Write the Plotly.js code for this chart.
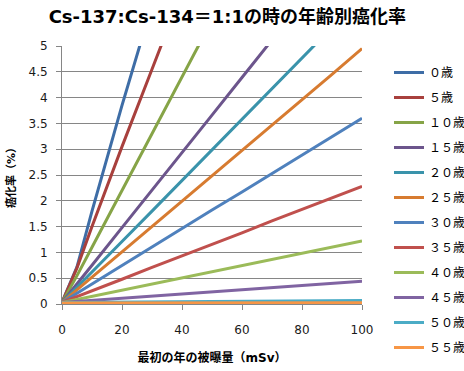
<!DOCTYPE html>
<html><head><meta charset="utf-8">
<script src="https://cdn.plot.ly/plotly-3.0.1.min.js"></script>
<style>html,body{margin:0;padding:0;background:#fff}#c{width:464px;height:371px}</style>
</head><body><div id="c"></div>
<script>
const dose = [0, 5, 10, 20, 30, 40, 50, 60, 70, 80, 90, 100];
const ageLabels = ['０歳','５歳','１０歳','１５歳','２０歳','２５歳','３０歳','３５歳','４０歳','４５歳','５０歳','５５歳'];
const age0  = [0.03, 0.72, 1.80, 3.85, 5.80, 7.75, 9.70, 11.65, 13.60, 15.55, 17.50, 19.45];
const age5  = [0.03, 0.70, 1.50, 3.05, 4.55, 6.05, 7.55, 9.05, 10.55, 12.05, 13.55, 15.05];
const age10 = [0.03, 0.55, 1.10, 2.20, 3.30, 4.40, 5.50, 6.60, 7.70, 8.80, 9.90, 11.00];
const age15 = [0.03, 0.38, 0.75, 1.48, 2.20, 2.93, 3.66, 4.39, 5.12, 5.85, 6.58, 7.30];
const age20 = [0.03, 0.32, 0.62, 1.21, 1.80, 2.39, 2.99, 3.58, 4.17, 4.77, 5.36, 5.96];
const age25 = [0.03, 0.27, 0.52, 1.01, 1.50, 1.99, 2.49, 2.98, 3.47, 3.96, 4.45, 4.95];
const age30 = [0.03, 0.21, 0.39, 0.74, 1.10, 1.46, 1.82, 2.17, 2.53, 2.88, 3.24, 3.60];
const age35 = [0.03, 0.14, 0.26, 0.48, 0.71, 0.93, 1.16, 1.38, 1.61, 1.83, 2.06, 2.28];
const age40 = [0.03, 0.09, 0.15, 0.27, 0.39, 0.51, 0.63, 0.74, 0.86, 0.98, 1.10, 1.22];
const age45 = [0.03, 0.05, 0.07, 0.11, 0.15, 0.19, 0.24, 0.28, 0.32, 0.36, 0.40, 0.44];
const age50 = [0.03, 0.032, 0.034, 0.038, 0.042, 0.046, 0.05, 0.054, 0.058, 0.062, 0.066, 0.07];
const age55 = [0.02, 0.02, 0.021, 0.021, 0.022, 0.022, 0.023, 0.023, 0.024, 0.024, 0.025, 0.025];
const seriesValues = [age0, age5, age10, age15, age20, age25, age30, age35, age40, age45, age50, age55];
const colors = ['#3E6DA6','#A8403D','#86A447','#6C558C','#3A93AB','#D77B30',
                '#4F81BD','#C0504D','#9BBB59','#8064A2','#4BACC6','#F79646'];
const xTicks = [0, 20, 40, 60, 80, 100];
const yTicks = [0, 0.5, 1, 1.5, 2, 2.5, 3, 3.5, 4, 4.5, 5];
const yTickText = ['0','0.5','1','1.5','2','2.5','3','3.5','4','4.5','5'];

const traces = seriesValues.map((v, i) => ({
  x: dose, y: v, type: 'scatter', mode: 'lines', name: ageLabels[i],
  legendgroup: 'g' + i,
  line: {color: colors[i], width: 3}, cliponaxis: true
}));

const fam = 'DejaVu Sans, "Noto Sans CJK JP", sans-serif';
const layout = {
  width: 464, height: 371,
  margin: {l: 62, r: 102, t: 46, b: 67, autoexpand: false},
  paper_bgcolor: '#fff', plot_bgcolor: '#fff',
  title: {text: 'Cs-137:Cs-134＝1:1の時の年齢別癌化率', font: {family: fam, size: 18, color: '#000', weight: 'bold'},
          x: 0.49, xanchor: 'center', y: 0.955, yanchor: 'middle'},
  xaxis: {range: [0, 100], tickvals: xTicks, ticktext: xTicks.map(String), showgrid: false, zeroline: false,
          showline: true, linecolor: '#868686', linewidth: 1, ticks: 'outside', ticklen: 5, tickcolor: '#868686',
          ticklabelstandoff: 10,
          tickfont: {family: fam, size: 12, color: '#1a1a1a'},
          title: {text: '最初の年の被曝量（mSv）', font: {family: fam, size: 12, color: '#000', weight: 'bold'}, standoff: 17}},
  yaxis: {range: [0, 5], tickvals: yTicks, ticktext: yTickText, showgrid: true, gridcolor: '#868686', gridwidth: 1,
          zeroline: false, showline: true, linecolor: '#868686', linewidth: 1, ticks: 'outside', ticklen: 5, tickcolor: '#868686',
          ticklabelstandoff: 6,
          tickfont: {family: fam, size: 12, color: '#1a1a1a'},
          title: {text: '癌化率（%）', font: {family: fam, size: 11, color: '#000', weight: 'bold'}, standoff: 10}},
  legend: {xref: 'container', yref: 'container', x: 389/464, xanchor: 'left', y: (371-58)/371, yanchor: 'top', tracegroupgap: 6,
           maxheight: 330,
           font: {family: fam, size: 12, color: '#000'}, itemwidth: 30, bgcolor: 'rgba(0,0,0,0)'},
  showlegend: true
};
Plotly.newPlot('c', traces, layout, {displayModeBar: false, staticPlot: true});
</script></body></html>
